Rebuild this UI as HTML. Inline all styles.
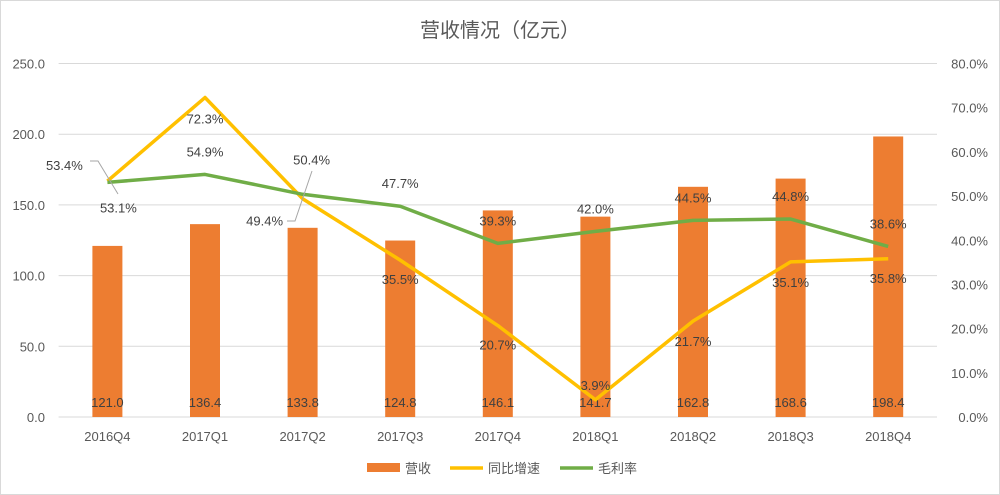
<!DOCTYPE html>
<html><head><meta charset="utf-8"><style>
body{margin:0;background:#fff;}
svg{display:block;font-family:"Liberation Sans","Noto Sans CJK SC",sans-serif;}
</style></head><body>
<svg id="c" width="1000" height="495">
<rect x="0.5" y="0.5" width="999" height="494" fill="#fff" stroke="#d9d9d9"/>
<text x="500" y="37" text-anchor="middle" font-size="20" fill="#595959">营收情况（亿元）</text>
<g id="g"></g>
</svg>
<script>
const categories=["2016Q4","2017Q1","2017Q2","2017Q3","2017Q4","2018Q1","2018Q2","2018Q3","2018Q4"];
const revenue=[121.0,136.4,133.8,124.8,146.1,141.7,162.8,168.6,198.4];
const growth=[53.4,72.3,49.4,35.5,20.7,3.9,21.7,35.1,35.8];
const margin=[53.1,54.9,50.4,47.7,39.3,42.0,44.5,44.8,38.6];
const leftTicks=[0,50,100,150,200,250];
const rightTicks=[0,10,20,30,40,50,60,70,80];
const NS="http://www.w3.org/2000/svg";
const g=document.getElementById('g');
const L=58.6,R=937,T=63.5,B=417;
const band=(R-L)/categories.length;
const xc=i=>L+band*(i+0.5);
const yl=v=>B-(B-T)*v/250;
const yr=v=>B-(B-T)*v/80;
function el(t,a,txt){const e=document.createElementNS(NS,t);for(const k in a)e.setAttribute(k,a[k]);if(txt!==undefined)e.textContent=txt;g.appendChild(e);return e;}
leftTicks.forEach(v=>{
 const l=el('line',{x1:L,x2:R,y1:yl(v),y2:yl(v),stroke:'#d9d9d9'});
 
 
 const t=el('text',{x:45,y:yl(v)+5,'text-anchor':'end','font-size':13,fill:'#595959'},v.toFixed(1));
 
 
});
rightTicks.forEach(v=>{
 const t=el('text',{x:988,y:yr(v)+5,'text-anchor':'end','font-size':13,fill:'#595959'},v.toFixed(1)+'%');
 
 
});
categories.forEach((c,i)=>{
 const t=el('text',{x:xc(i),y:441,'text-anchor':'middle','font-size':13,fill:'#595959'},c);
 
 
 const b=el('rect',{x:xc(i)-15,y:yl(revenue[i]),width:30,height:B-yl(revenue[i]),fill:'#ed7d31'});
 
 
 const bt=el('text',{x:xc(i),y:407,'text-anchor':'middle','font-size':13,fill:'#404040'},revenue[i].toFixed(1));
 
 
});
function line(arr,color,name){
 const p=el('polyline',{points:arr.map((v,i)=>xc(i)+','+yr(v)).join(' '),fill:'none',stroke:color,'stroke-width':3.5,'stroke-linejoin':'round'});
 
 
}
line(growth,'#ffc000','growth-line');
line(margin,'#70ad47','margin-line');
// label offsets [dx,dy] (style only)
const gOff=[[-43,-11],[0,26],[-38,27],[0,24],[0,24],[0,-10],[0,25],[0,25],[0,24]];
const mOff=[[11,30],[0,-18],[9,-30],[0,-18],[0,-18],[0,-18],[0,-18],[0,-18],[0,-18]];
growth.forEach((v,i)=>{
 const t=el('text',{x:xc(i)+gOff[i][0],y:yr(v)+gOff[i][1],'text-anchor':'middle','font-size':13,fill:'#404040'},v.toFixed(1)+'%');
 
 
});
margin.forEach((v,i)=>{
 const t=el('text',{x:xc(i)+mOff[i][0],y:yr(v)+mOff[i][1],'text-anchor':'middle','font-size':13,fill:'#404040'},v.toFixed(1)+'%');
 
 
});
// leader lines
[[90,161,98,161,118,194],[287,221,295,221,312,171]].forEach(p=>{
 const pts=[];for(let k=0;k<p.length;k+=2)pts.push(p[k]+','+p[k+1]);
 const l=el('polyline',{points:pts.join(' '),fill:'none',stroke:'#a6a6a6','stroke-width':1});
 
 
});
// legend
const leg=[['rect','#ed7d31','营收',367],['line','#ffc000','同比增速',450],['line','#70ad47','毛利率',560]];
leg.forEach(([k,c,n,x])=>{
 if(k==='rect'){const r=el('rect',{x:x,y:463,width:33,height:9,fill:c});}
 else{const l=el('line',{x1:x,x2:x+33,y1:468,y2:468,stroke:c,'stroke-width':3.5});}
 const t=el('text',{x:x+38,y:473,'font-size':13,fill:'#595959'},n);
 
 
});
</script>
</body></html>
